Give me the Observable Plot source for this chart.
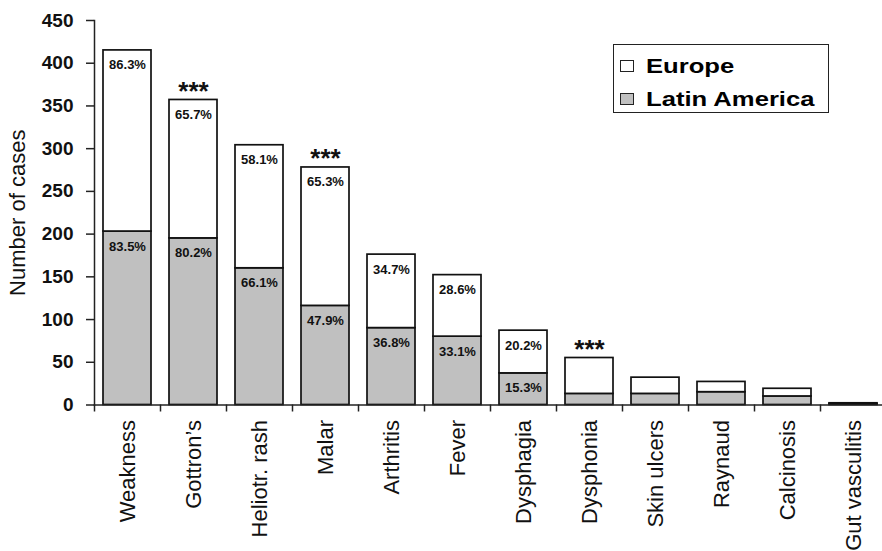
<!DOCTYPE html>
<html>
<head>
<meta charset="utf-8">
<script src="https://cdn.jsdelivr.net/npm/d3@7"></script>
<script src="https://cdn.jsdelivr.net/npm/@observablehq/plot@0.6"></script>
<style>
  body { margin: 0; background: #fff; }
  #wrap { position: relative; width: 882px; height: 551px; overflow: hidden; font-family: "Liberation Sans", Arial, sans-serif; }
  #legend { position: absolute; left: 613px; top: 44px; width: 214px; height: 67px; border: 1.5px solid #222; background: #fff; }
  #legend .sw { position: absolute; width: 12px; height: 10px; border: 1.5px solid #222; }
  #legend .lt { position: absolute; left: 32px; font-size: 21px; line-height: 21px; font-weight: bold; color: #000; transform: scaleX(1.22); transform-origin: left center; white-space: nowrap; }
</style>
</head>
<body>
<div id="wrap"></div>
<script>
const categories = ["Weakness", "Gottron\u2019s", "Heliotr. rash", "Malar", "Arthritis", "Fever", "Dysphagia", "Dysphonia", "Skin ulcers", "Raynaud", "Calcinosis", "Gut vasculitis"];
const latinAmerica = [203, 195, 160, 116, 90, 80, 37, 13, 13, 15, 10, 1];
const europe = [212, 162, 144, 162, 86, 72, 50, 42, 19, 12, 9, 1];
const europePct = ["86.3%", "65.7%", "58.1%", "65.3%", "34.7%", "28.6%", "20.2%", "", "", "", "", ""];
const latinPct = ["83.5%", "80.2%", "66.1%", "47.9%", "36.8%", "33.1%", "15.3%", "", "", "", "", ""];
const significance = ["", "***", "", "***", "", "", "", "***", "", "", "", ""];
const yTicks = [0, 50, 100, 150, 200, 250, 300, 350, 400, 450];
const seriesNames = ["Latin America", "Europe"];
const seriesFill = ["#c0c0c0", "#ffffff"];
const yLabel = "Number of cases";

const rows = [];
categories.forEach((c, i) => {
  rows.push({cat: c, series: seriesNames[0], value: latinAmerica[i], pct: latinPct[i], sig: ""});
  rows.push({cat: c, series: seriesNames[1], value: europe[i], pct: europePct[i], sig: significance[i]});
});

const xRange = [94, 886];
const halfStep = (xRange[1] - xRange[0]) / categories.length / 2;
const font = "'Liberation Sans', Arial, sans-serif";

const chart = Plot.plot({
  width: 882,
  height: 551,
  marginTop: 20,
  marginBottom: 146.5,
  marginLeft: 94,
  marginRight: 0,
  style: {fontFamily: font, background: "white", color: "#111", overflow: "hidden"},
  x: {domain: categories, range: xRange, paddingInner: 0.28, paddingOuter: 0.14},
  y: {domain: [0, 450]},
  color: {domain: seriesNames, range: seriesFill},
  marks: [
    Plot.barY(rows, {x: "cat", y: "value", fill: "series", z: "series", stroke: "#111", strokeWidth: 1.7}),
    Plot.text(rows, Plot.stackY2({x: "cat", y: "value", z: "series", text: "pct", dy: 19, lineAnchor: "bottom", fontSize: 13, fontWeight: "bold", fill: "#111"})),
    Plot.text(rows, Plot.stackY2({x: "cat", y: "value", z: "series", text: "sig", lineAnchor: "bottom", fontSize: 26, fontWeight: "bold", fill: "#111"})),
    Plot.axisY({ticks: yTicks, tickSize: 8, tickPadding: 13, fontSize: 19, fontWeight: "bold", label: null, stroke: "#222", strokeWidth: 1.5, fill: "#111"}),
    Plot.text([yLabel], {frameAnchor: "left", textAnchor: "middle", lineAnchor: "middle", text: d => d, rotate: -90, dx: -77, fontSize: 22, fill: "#111"}),
    Plot.axisX({tickSize: 0, tickRotate: -90, tickPadding: 15, fontSize: 22, label: null, fill: "#111"}),
    Plot.axisX({tickSize: 7, tickFormat: () => "", dx: -halfStep, label: null, stroke: "#222", strokeWidth: 1.5}),
    Plot.frame({anchor: "left", stroke: "#222", strokeWidth: 1.5}),
    Plot.frame({anchor: "bottom", stroke: "#222", strokeWidth: 1.5})
  ]
});

const wrap = document.getElementById("wrap");
wrap.appendChild(chart);

const legend = document.createElement("div");
legend.id = "legend";
const legendItems = [
  {name: seriesNames[1], fill: seriesFill[1], swTop: 14.5, textTop: 10},
  {name: seriesNames[0], fill: seriesFill[0], swTop: 47.5, textTop: 43.4}
];
legendItems.forEach(it => {
  const sw = document.createElement("div");
  sw.className = "sw";
  sw.style.left = "5.5px";
  sw.style.top = it.swTop + "px";
  sw.style.background = it.fill;
  legend.appendChild(sw);
  const t = document.createElement("div");
  t.className = "lt";
  t.style.top = it.textTop + "px";
  t.textContent = it.name;
  legend.appendChild(t);
});
wrap.appendChild(legend);
</script>
</body>
</html>
